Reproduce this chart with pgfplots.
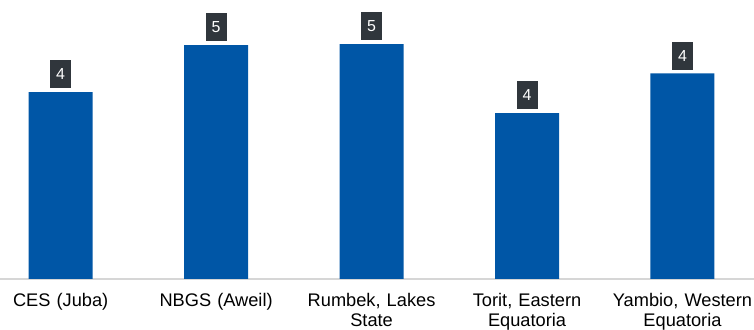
\documentclass[border=0pt]{standalone}
\usepackage{pgfplots}
\pgfplotsset{compat=1.18}
\usepackage{fontspec}
\setmainfont{Liberation Sans}
\definecolor{barblue}{HTML}{0056A6}
\definecolor{boxgray}{HTML}{30363C}
\definecolor{axisgray}{HTML}{D6D6D6}
\begin{document}
\begin{tikzpicture}
\begin{axis}[
  scale only axis,
  width=754bp, height=279bp,
  xmin=-0.39, xmax=4.46,
  ymin=0, ymax=5.94,
  axis x line=bottom,
  axis y line=none,
  x axis line style={axisgray, line width=1.2bp, -},
  xtick={0,1,2,3,4},
  xticklabels={CES (Juba), NBGS (Aweil), {Rumbek, Lakes\\State}, {Torit, Eastern\\Equatoria}, {Yambio, Western\\Equatoria}},
  xticklabel style={align=center, text width=152bp, inner sep=0pt, font=\fontsize{18.3}{20.3}\selectfont, text=black, yshift=-14bp},
  major tick length=0pt,
  ytick=\empty,
  /pgf/number format/assume math mode=true,
  nodes near coords,
  nodes near coords style={
    /pgf/number format/.cd, fixed, precision=0, /tikz/.cd,
    anchor=south, yshift=3.5bp, fill=boxgray, text=white,
    inner sep=0pt, minimum width=21bp, minimum height=28bp,
    font=\fontsize{16}{18}\selectfont},
]
\addplot[ybar, bar width=64bp, fill=barblue, draw=none] coordinates {
  (0,3.98) (1,4.98) (2,5.00) (3,3.53) (4,4.38)
};
\coordinate (sw) at (rel axis cs:0,0);
\end{axis}
\pgfresetboundingbox
\path[use as bounding box] (sw) ++(0,-51bp) rectangle ++(754bp,330bp);
\end{tikzpicture}
\end{document}
